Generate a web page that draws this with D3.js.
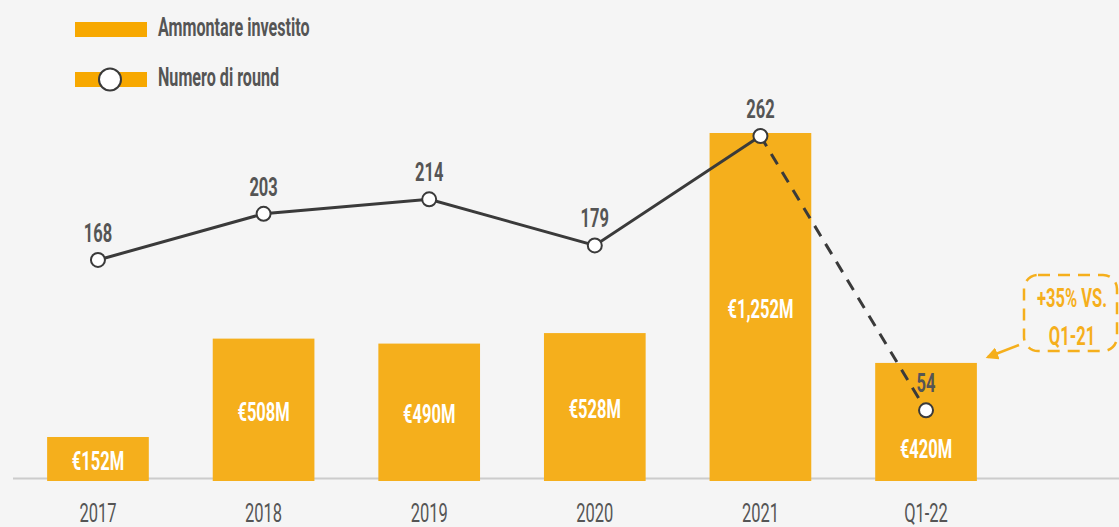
<!DOCTYPE html>
<html>
<head>
<meta charset="utf-8">
<script src="https://cdn.jsdelivr.net/npm/d3@7"></script>
<style>
  html, body { margin: 0; padding: 0; background: #f5f5f5; }
  svg { display: block; }
  text { font-family: Roboto, "Noto Sans", sans-serif; }
</style>
</head>
<body>
<svg id="chart" width="1119" height="527"></svg>
<script>
// Investment per period (million €) and number of rounds
const categories = ["2017", "2018", "2019", "2020", "2021", "Q1-22"];
const amounts = [152, 508, 490, 528, 1252, 420];
const amountLabels = ["€152M", "€508M", "€490M", "€528M", "€1,252M", "€420M"];
const rounds = [168, 203, 214, 179, 262, 54];
const legendLabels = ["Ammontare investito", "Numero di round"];
const noteLines = ["+35% VS.", "Q1-21"];

const orange = "#f5af1c";
const legendOrange = "#f7a800";
const dark = "#3a3a3a";
const textGrey = "#555555";
const squeeze = 0.66; // horizontal condensing of all labels

const svg = d3.select("#chart");
const W = 1119;

// place a condensed text at (px, py)
function label(parent, px, py, str, opts) {
  const t = parent.append("text")
    .attr("transform", `translate(${px},${py}) scale(${opts.sx || squeeze},1)`)
    .attr("text-anchor", opts.anchor || "middle")
    .attr("fill", opts.fill)
    .attr("font-size", opts.size)
    .attr("font-weight", opts.weight || "bold")
    .text(str);
  if (opts.dy) t.attr("dy", opts.dy);
  return t;
}

const x = d3.scaleBand()
  .domain(categories)
  .range([14, 1010])
  .paddingInner(0.386)
  .paddingOuter(0.2);

const yBar = d3.scaleLinear().domain([0, 1252]).range([479, 133]);
const yLine = d3.scaleLinear().domain([0, 262]).range([481.5, 136]);

// baseline
svg.append("line")
  .attr("x1", 13).attr("x2", W)
  .attr("y1", 478.5).attr("y2", 478.5)
  .attr("stroke", "#cccccc").attr("stroke-width", 2);

// bars
svg.append("g").selectAll("rect")
  .data(amounts)
  .join("rect")
  .attr("x", (d, i) => x(categories[i]))
  .attr("width", x.bandwidth())
  .attr("y", d => yBar(d))
  .attr("height", d => yBar(0) - yBar(d) + 2)
  .attr("fill", orange);

// bar value labels
const barText = svg.append("g");
amounts.forEach((d, i) => {
  const mid = (yBar(d) + yBar(0)) / 2;
  const py = i === amounts.length - 1 ? mid + 28 : mid + 3;
  label(barText, x(categories[i]) + x.bandwidth() / 2, py, amountLabels[i],
    { fill: "#ffffff", size: 25, dy: "0.36em" });
});

// category axis labels
const axisText = svg.append("g");
categories.forEach(c => {
  label(axisText, x(c) + x.bandwidth() / 2, 522, c,
    { fill: textGrey, size: 25, weight: "normal", sx: 0.66 });
});

// rounds line: solid for full years, dashed into the partial quarter
const cx = i => x(categories[i]) + x.bandwidth() / 2;
const line = d3.line().x(d => cx(d.i)).y(d => yLine(d.v));
const pts = rounds.map((v, i) => ({ v, i }));
const n = pts.length;

svg.append("path")
  .datum(pts.slice(0, n - 1))
  .attr("d", line)
  .attr("fill", "none")
  .attr("stroke", dark)
  .attr("stroke-width", 3);

svg.append("path")
  .datum(pts.slice(n - 2))
  .attr("d", line)
  .attr("fill", "none")
  .attr("stroke", dark)
  .attr("stroke-width", 3)
  .attr("stroke-dasharray", "12,9");

svg.append("g").selectAll("circle")
  .data(pts)
  .join("circle")
  .attr("cx", d => cx(d.i))
  .attr("cy", d => yLine(d.v))
  .attr("r", 7)
  .attr("fill", "#ffffff")
  .attr("stroke", dark)
  .attr("stroke-width", 2);

const roundText = svg.append("g");
pts.forEach(d => {
  label(roundText, cx(d.i), yLine(d.v) - 18, String(d.v),
    { fill: textGrey, size: 25 });
});

// legend
const legend = svg.append("g");
legend.append("rect")
  .attr("x", 75).attr("y", 22).attr("width", 72).attr("height", 15)
  .attr("fill", legendOrange);
legend.append("rect")
  .attr("x", 75).attr("y", 72).attr("width", 72).attr("height", 15)
  .attr("fill", legendOrange);
legend.append("circle")
  .attr("cx", 110).attr("cy", 79.5).attr("r", 11)
  .attr("fill", "#ffffff").attr("stroke", dark).attr("stroke-width", 2);
legendLabels.forEach((d, i) => {
  label(legend, 158, 27 + i * 50, d,
    { fill: textGrey, size: 26, anchor: "start", dy: "0.36em", sx: 0.62 });
});

// growth note with arrow pointing at the last bar
const note = svg.append("g");
note.append("rect")
  .attr("x", 1024).attr("y", 275).attr("width", 93).attr("height", 76)
  .attr("rx", 14)
  .attr("fill", "none")
  .attr("stroke", orange).attr("stroke-width", 2.5)
  .attr("stroke-dasharray", "12,8");
noteLines.forEach((d, i) => {
  label(note, 1072, 298 + i * 38, d,
    { fill: orange, size: 25, dy: "0.36em" });
});

svg.append("defs").append("marker")
  .attr("id", "arrow")
  .attr("viewBox", "0 0 10 10")
  .attr("refX", 8).attr("refY", 5)
  .attr("markerWidth", 5).attr("markerHeight", 5)
  .attr("orient", "auto")
  .append("path")
  .attr("d", "M0,0 L10,5 L0,10 z")
  .attr("fill", orange);

note.append("line")
  .attr("x1", 1019).attr("y1", 345)
  .attr("x2", 988).attr("y2", 357)
  .attr("stroke", orange).attr("stroke-width", 2.5)
  .attr("marker-end", "url(#arrow)");
</script>
</body>
</html>
